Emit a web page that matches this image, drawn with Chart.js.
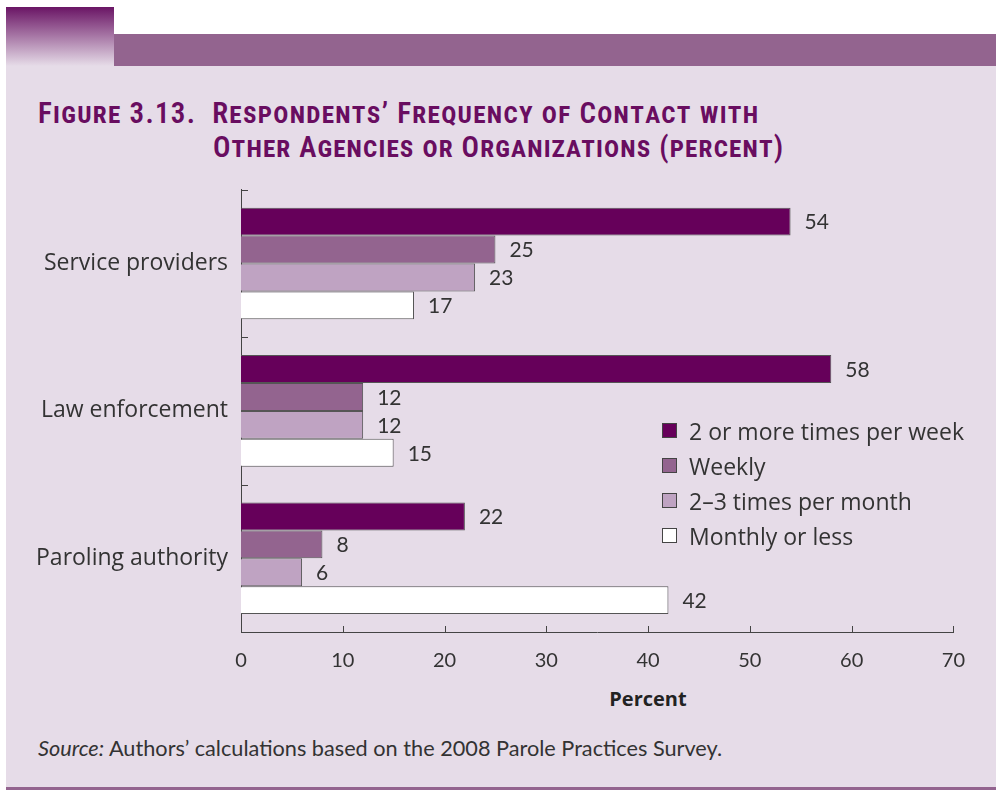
<!DOCTYPE html>
<html>
<head>
<meta charset="utf-8">
<script src="https://cdn.jsdelivr.net/npm/chart.js@4/dist/chart.umd.min.js"></script>
<style>
  body { margin: 0; width: 996px; height: 790px; background: #fff; position: relative; overflow: hidden; font-family: 'Open Sans', Lato, sans-serif; }
  .grad { position: absolute; left: 6px; top: 7px; width: 108px; height: 59px; background: linear-gradient(#6a1565, #e6dce8); }
  .band { position: absolute; left: 114px; top: 34px; width: 882px; height: 32px; background: #93648f; }
  .panel { position: absolute; left: 6px; top: 66px; width: 990px; height: 721px; background: #e6dce8; border-bottom: 3px solid #93648f; }
  .title { position: absolute; color: #690d60; font-family: 'Liberation Sans Narrow', 'Roboto Condensed', 'Open Sans', sans-serif; font-variant: small-caps; font-size: 29px; font-weight: 600; line-height: 34px; white-space: nowrap; }
  .legend { position: absolute; left: 662px; top: 413px; color: #333; font-size: 23px; }
  .legend div { height: 35px; line-height: 28px; display: flex; align-items: center; }
  .legend span.box { display: inline-block; width: 13px; height: 13px; border: 1px solid #444; margin-right: 12px; }
  .xtitle { position: absolute; left: 548px; width: 200px; top: 685px; text-align: center; font-weight: bold; font-size: 20px; color: #222; }
  .source { position: absolute; left: 38px; top: 735px; font-family: Lato, sans-serif; font-size: 21.7px; color: #333; }
  #wrap { position: absolute; left: 0; top: 163px; width: 982px; height: 515px; }
</style>
</head>
<body>
<div class="grad"></div>
<div class="band"></div>
<div class="panel"></div>
<div class="title" style="left:38px; top:96px; letter-spacing:1.27px;">Figure 3.13.&nbsp; Respondents’ Frequency of Contact with</div>
<div class="title" style="left:213px; top:130px; letter-spacing:1.12px;">Other Agencies or Organizations (percent)</div>
<div id="wrap"><canvas id="c"></canvas></div>
<div class="legend" id="legend"></div>
<div class="xtitle">Percent</div>
<div class="source"><i>Source:</i> Authors’ calculations based on the 2008 Parole Practices Survey.</div>
<script>
const categories = ['Service providers', 'Law enforcement', 'Paroling authority'];
const seriesNames = ['2 or more times per week', 'Weekly', '2–3 times per month', 'Monthly or less'];
const twoOrMorePerWeek = [54, 58, 22];
const weekly = [25, 12, 8];
const twoToThreePerMonth = [23, 12, 6];
const monthlyOrLess = [17, 15, 42];
const xTicks = [0, 10, 20, 30, 40, 50, 60, 70];

const colors = ['#66005a', '#93648f', '#bfa3c2', '#ffffff'];
const values = [twoOrMorePerWeek, weekly, twoToThreePerMonth, monthlyOrLess];
const catPct = 0.757;

const datasets = values.map((v, i) => ({
    label: seriesNames[i],
    data: v,
    backgroundColor: colors[i],
    borderColor: '#555',
    borderWidth: 1,
    barPercentage: 1,
    categoryPercentage: catPct
}));

// value labels at the end of each bar, plus inward tick marks
const extras = {
    id: 'extras',
    afterDatasetsDraw(chart) {
        const ctx = chart.ctx;
        ctx.save();
        ctx.font = '21px Lato, "Open Sans", sans-serif';
        ctx.fillStyle = '#333';
        ctx.textBaseline = 'middle';
        chart.data.datasets.forEach((ds, i) => {
            chart.getDatasetMeta(i).data.forEach((bar, j) => {
                ctx.fillText(ds.data[j], bar.x + 14, bar.y + 1);
            });
        });
        const x = chart.scales.x, y = chart.scales.y;
        const area = chart.chartArea;
        ctx.strokeStyle = '#444';
        ctx.lineWidth = 1;
        ctx.beginPath();
        xTicks.forEach(t => {
            const px = Math.round(x.getPixelForValue(t)) + 0.5;
            ctx.moveTo(px, area.bottom);
            ctx.lineTo(px, area.bottom - 6);
        });
        const half = (y.getPixelForValue(1) - y.getPixelForValue(0)) / 2;
        for (let k = 0; k <= categories.length; k++) {
            const py = Math.round(y.getPixelForValue(k) - half) + 0.5;
            ctx.moveTo(area.left, py);
            ctx.lineTo(area.left + 7, py);
        }
        ctx.stroke();
        ctx.restore();
    }
};

new Chart(document.getElementById('c'), {
    type: 'bar',
    data: { labels: categories, datasets: datasets },
    options: {
        indexAxis: 'y',
        responsive: true,
        maintainAspectRatio: false,
        animation: false,
        layout: { padding: { top: 10, right: 25, bottom: 0, left: 0 } },
        plugins: { legend: { display: false }, tooltip: { enabled: false } },
        scales: {
            x: {
                min: 0,
                max: 70,
                afterBuildTicks(s) { s.ticks = xTicks.map(v => ({ value: v })); },
                afterFit(s) { s.height = 46; },
                grid: { display: false, drawTicks: false },
                border: { display: true, color: '#444', width: 1 },
                ticks: { padding: 17, color: '#333', font: { size: 20, family: 'Lato' } }
            },
            y: {
                afterFit(s) { s.width = 241; },
                grid: { display: false, drawTicks: false },
                border: { display: true, color: '#444', width: 1 },
                ticks: { padding: 13, color: '#333', font: { size: 23, family: "'Open Sans'" } }
            }
        }
    },
    plugins: [extras]
});

document.getElementById('legend').innerHTML = seriesNames.map((n, i) =>
    `<div><span class="box" style="background:${colors[i]}"></span>${n}</div>`).join('');
</script>
</body>
</html>
